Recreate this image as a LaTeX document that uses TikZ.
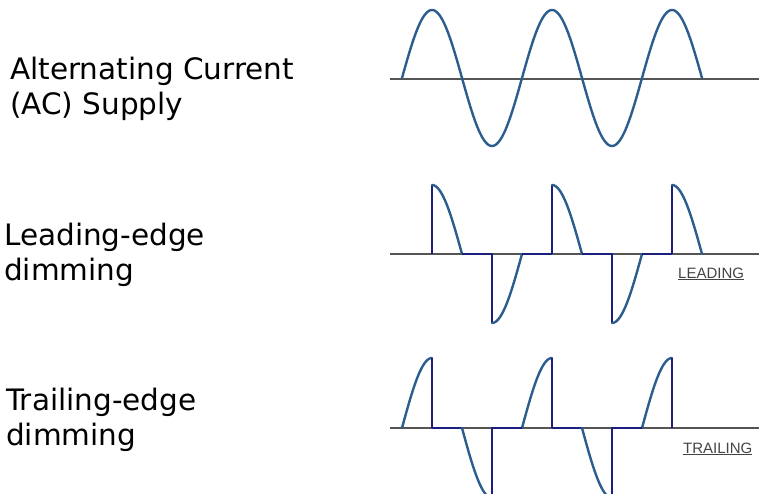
\documentclass[tikz,border=0pt]{standalone}
\usepackage{fontspec}
\setmainfont{DejaVu Sans}
\newfontfamily\arialfont{Liberation Sans}
\definecolor{curveblue}{HTML}{2B5D8E}
\definecolor{cutnavy}{HTML}{1C1F7E}
\definecolor{axisgray}{HTML}{555555}
\definecolor{labelgray}{HTML}{444444}
\tikzset{
  axisline/.style={draw=axisgray, line width=1.1pt},
  wavecurve/.style={draw=curveblue, line width=2.4pt, line cap=round, line join=round},
  cutline/.style={draw=cutnavy, line width=2.6pt, line join=miter},
  sidelabel/.style={anchor=base west, inner sep=0pt, align=left,
    font=\fontsize{29.5}{35}\selectfont, text=black},
  tag/.style={anchor=base west, inner sep=0pt, font=\arialfont\fontsize{15}{17}\selectfont, text=labelgray}
}
\begin{document}
\begin{tikzpicture}[x=1pt,y=-1pt]
\useasboundingbox (0,0) rectangle (759,494);
\clip (0,0) rectangle (759,494);
% labels (anchor = baseline of last line)
\node[sidelabel] (ac) at (10,115) {Alternating Current\\(AC) Supply};
\node[sidelabel] (le) at (4,280) {Leading-edge\\dimming};
\node[sidelabel] (te) at (6,445) {Trailing-edge\\dimming};
% --- AC supply
\draw[axisline] (390,79) -- (759,79);
\draw[wavecurve] plot[domain=402:702, samples=241, smooth] (\x,{78-68*sin((\x-402)*3)});
% --- leading edge
\draw[axisline] (390,254) -- (759,254);
\foreach \s in {0,120,240}{
  \draw[cutline] (432+\s,254) -- (432+\s,185);
  \draw[wavecurve] plot[domain=432+\s:462+\s, samples=40, smooth] (\x,{254-69*sin((\x-402)*3)});
}
\foreach \s in {0,120}{
  \draw[cutline] (462+\s,254) -- (492+\s,254) -- (492+\s,323);
  \draw[wavecurve] plot[domain=492+\s:522+\s, samples=40, smooth] (\x,{254-69*sin((\x-402)*3)});
  \draw[cutline] (522+\s,254) -- (552+\s,254);
}
\node[tag] (lead) at (678,278) {\underline{LEADING}};
% --- trailing edge
\draw[axisline] (390,428) -- (759,428);
\foreach \s in {0,120,240}{
  \draw[wavecurve] plot[domain=402+\s:432+\s, samples=40, smooth] (\x,{428-70*sin((\x-402)*3)});
  \draw[cutline] (432+\s,358) -- (432+\s,428);
}
\foreach \s in {0,120}{
  \draw[cutline] (432+\s,428) -- (462+\s,428);
  \draw[wavecurve] plot[domain=462+\s:492+\s, samples=40, smooth] (\x,{428-70*sin((\x-402)*3)});
  \draw[cutline] (492+\s,498) -- (492+\s,428) -- (522+\s,428);
}
\node[tag] (trail) at (683,453) {\underline{TRAILING}};
\end{tikzpicture}
\end{document}
